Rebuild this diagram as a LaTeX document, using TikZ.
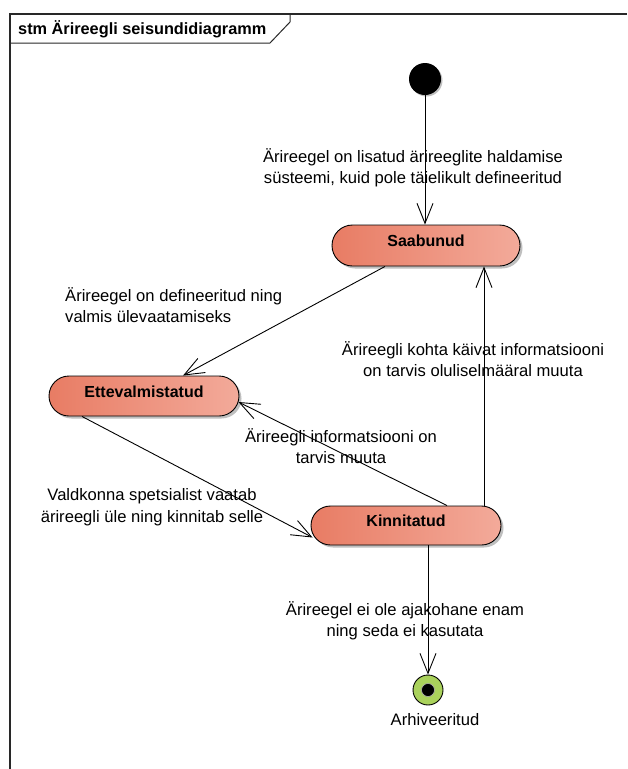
\documentclass[tikz,border=0pt]{standalone}
\usepackage{fontspec}
\setmainfont{Liberation Sans}
\usetikzlibrary{arrows.meta,shapes.misc,shadows}
\definecolor{stateL}{RGB}{232,124,100}
\definecolor{stateR}{RGB}{243,170,154}
\definecolor{finalG}{RGB}{170,210,92}
\definecolor{frameC}{RGB}{40,40,40}
\begin{document}
\begin{tikzpicture}[x=1pt,y=-1pt,
  statebox/.style={rounded rectangle, draw=black, line width=0.9pt,
    left color=stateL, right color=stateR, inner sep=0pt,
    text height=12pt, text depth=10pt,
    font=\bfseries\fontsize{16}{18}\selectfont,
    drop shadow={shadow xshift=2.5pt, shadow yshift=-2.5pt, fill=black, opacity=0.25}},
  trans/.style={draw=black, line width=0.9pt,
    -{Straight Barb[length=20pt,width=16pt,line width=0.9pt]}},
  lbl/.style={font=\fontsize{16.6}{21.5}\selectfont, align=center, inner sep=0pt}]
\useasboundingbox (0,0) rectangle (627,769);

% diagram frame and name tab
\draw[frameC, line width=1.2pt] (627,14) -- (10,14) -- (10,769);
\draw[frameC, line width=1pt] (10,43) -- (270,43) -- (290,22) -- (290,14);
\node[anchor=base west, inner sep=0pt, font=\bfseries\fontsize{16.3}{18}\selectfont]
  (title) at (18,34) {stm Ärireegli seisundidiagramm};

% pseudo states
\node[circle, fill=black, minimum size=32pt, inner sep=0pt,
  drop shadow={shadow xshift=1.5pt, shadow yshift=-1.5pt, fill=black, opacity=0.25}]
  (init) at (425,79) {};
\node[circle, draw=black, line width=0.9pt, fill=finalG, minimum size=30pt, inner sep=0pt]
  (fin) at (428,690) {};
\node[circle, fill=black, draw=gray!60, line width=0.6pt, minimum size=13pt, inner sep=0pt]
  (finDot) at (fin) {};
\node[lbl] (arch) at (435,720) {Arhiveeritud};

% states
\node[statebox, minimum width=188pt, minimum height=41pt] (saab) at (426,245.5) {Saabunud};
\node[statebox, minimum width=190pt, minimum height=40pt] (ette) at (144,396) {Ettevalmistatud};
\node[statebox, minimum width=190pt, minimum height=39pt] (kinn) at (406,525.5) {Kinnitatud};

% transitions
\draw[trans] (init) -- (init |- saab.north);
\draw[trans] ([xshift=-41pt]saab.south) -- ([xshift=39pt]ette.north);
\draw[trans] ([xshift=78pt]kinn.north) -- ([xshift=58pt]saab.south);
\draw[trans] ([xshift=41pt]kinn.north) -- ([xshift=-1pt,yshift=-6pt]ette.east);
\draw[trans] ([xshift=-62pt]ette.south) -- ([xshift=2pt,yshift=-12pt]kinn.west);
\draw[trans] ([xshift=22pt]kinn.south) -- (fin.north);

% transition labels
\node[lbl] (t1) at (413,168) {Ärireegel on lisatud ärireeglite haldamise\\süsteemi, kuid pole täielikult defineeritud};
\node[lbl, anchor=west, align=left] (t2) at (65,305) {Ärireegel on defineeritud ning\\valmis ülevaatamiseks};
\node[lbl] (t3) at (473,359) {Ärireegli kohta käivat informatsiooni\\on tarvis oluliselmääral muuta};
\node[lbl] (t4) at (341,446) {Ärireegli informatsiooni on\\tarvis muuta};
\node[lbl] (t5) at (152,507) {Valdkonna spetsialist vaatab\\ärireegli üle ning kinnitab selle};
\node[lbl] (t6) at (405,621) {Ärireegel ei ole ajakohane enam\\ning seda ei kasutata};
\end{tikzpicture}
\end{document}
